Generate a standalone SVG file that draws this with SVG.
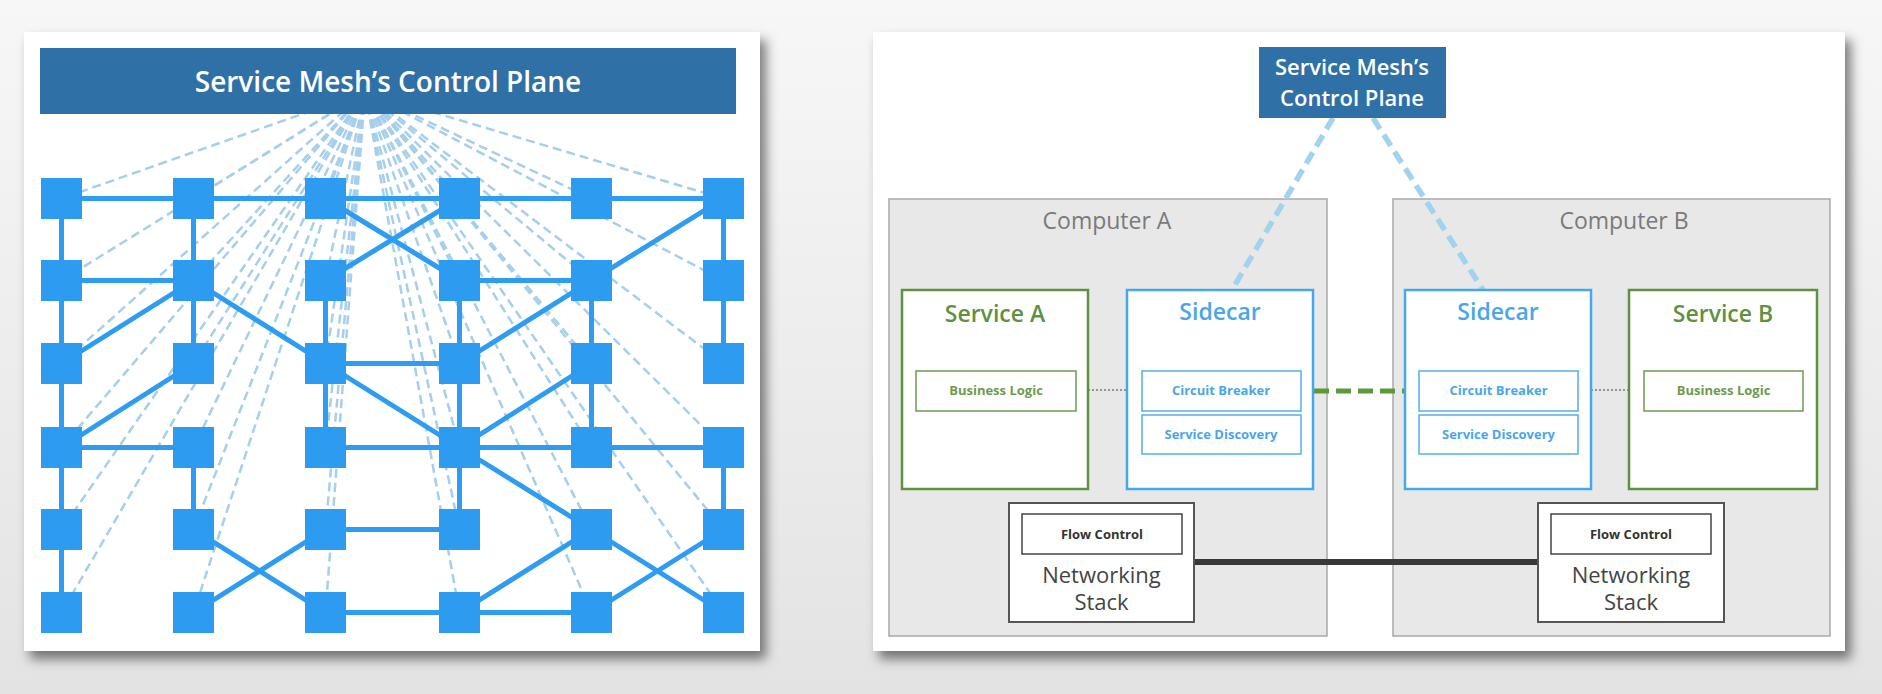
<svg xmlns="http://www.w3.org/2000/svg" width="1882" height="694" viewBox="0 0 1882 694">
<defs>
<linearGradient id="bg" x1="0" y1="0" x2="0" y2="1">
<stop offset="0" stop-color="#f7f7f7"/>
<stop offset="1" stop-color="#e3e3e3"/>
</linearGradient>
<filter id="shadow" x="-5%" y="-5%" width="112%" height="115%">
<feDropShadow dx="6" dy="8" stdDeviation="6" flood-color="#000" flood-opacity="0.5"/>
</filter>
<style>
text{font-family:"Open Sans","DejaVu Sans",sans-serif;text-anchor:middle}
.sq{fill:#2c9bf0}
.edge{stroke:#2e9cf0;stroke-width:5;fill:none}
.fan{stroke:#a5cfec;stroke-width:2.5;stroke-dasharray:9 5;fill:none}
.hdr{fill:#2f70a6}
.white{fill:#fff}
.comp{fill:#e8e8e8;stroke:#a9a9a9;stroke-width:1.5}
.svc{fill:#fff;stroke:#5e9140;stroke-width:2.5}
.svcin{fill:#fff;stroke:#6e9a50;stroke-width:1.5}
.side{fill:#fff;stroke:#45a7ee;stroke-width:2.5}
.sidein{fill:#fff;stroke:#56aeee;stroke-width:1.5}
.net{fill:#fff;stroke:#555;stroke-width:2}
.netin{fill:#fff;stroke:#444;stroke-width:1.5}
.tSvc{fill:#5e9140;font-size:23px;font-weight:600}
.tSide{fill:#4aa6e8;font-size:23px;font-weight:600}
.tSmG{fill:#6e9a50;font-size:13px;font-weight:700}
.tSmB{fill:#4aa6e8;font-size:13px;font-weight:700}
.tSmK{fill:#333;font-size:13px;font-weight:700}
.tComp{fill:#7a7a7a;font-size:23px}
.tNet{fill:#444;font-size:22px}
.tHdr{fill:#fff;font-size:22px;font-weight:600}
</style>
</defs>
<rect x="0" y="0" width="1882" height="694" fill="url(#bg)"/>

<!-- Left panel card -->
<rect x="24" y="32" width="736" height="619" class="white" filter="url(#shadow)"/>

<g id="fan-connectors">
<line class="fan" x1="365" y1="92" x2="61.5" y2="198.5"/>
<line class="fan" x1="365" y1="92" x2="193.5" y2="198.5"/>
<line class="fan" x1="365" y1="92" x2="325.5" y2="198.5"/>
<line class="fan" x1="365" y1="92" x2="459.5" y2="198.5"/>
<line class="fan" x1="365" y1="92" x2="591.5" y2="198.5"/>
<line class="fan" x1="365" y1="92" x2="723.5" y2="198.5"/>
<line class="fan" x1="365" y1="92" x2="61.5" y2="280.5"/>
<line class="fan" x1="365" y1="92" x2="193.5" y2="280.5"/>
<line class="fan" x1="365" y1="92" x2="325.5" y2="280.5"/>
<line class="fan" x1="365" y1="92" x2="459.5" y2="280.5"/>
<line class="fan" x1="365" y1="92" x2="591.5" y2="280.5"/>
<line class="fan" x1="365" y1="92" x2="723.5" y2="280.5"/>
<line class="fan" x1="365" y1="92" x2="61.5" y2="363.5"/>
<line class="fan" x1="365" y1="92" x2="193.5" y2="363.5"/>
<line class="fan" x1="365" y1="92" x2="325.5" y2="363.5"/>
<line class="fan" x1="365" y1="92" x2="459.5" y2="363.5"/>
<line class="fan" x1="365" y1="92" x2="591.5" y2="363.5"/>
<line class="fan" x1="365" y1="92" x2="723.5" y2="363.5"/>
<line class="fan" x1="365" y1="92" x2="61.5" y2="447.5"/>
<line class="fan" x1="365" y1="92" x2="193.5" y2="447.5"/>
<line class="fan" x1="365" y1="92" x2="325.5" y2="447.5"/>
<line class="fan" x1="365" y1="92" x2="459.5" y2="447.5"/>
<line class="fan" x1="365" y1="92" x2="591.5" y2="447.5"/>
<line class="fan" x1="365" y1="92" x2="723.5" y2="447.5"/>
<line class="fan" x1="365" y1="92" x2="61.5" y2="529.5"/>
<line class="fan" x1="365" y1="92" x2="193.5" y2="529.5"/>
<line class="fan" x1="365" y1="92" x2="325.5" y2="529.5"/>
<line class="fan" x1="365" y1="92" x2="459.5" y2="529.5"/>
<line class="fan" x1="365" y1="92" x2="591.5" y2="529.5"/>
<line class="fan" x1="365" y1="92" x2="723.5" y2="529.5"/>
<line class="fan" x1="365" y1="92" x2="61.5" y2="612.5"/>
<line class="fan" x1="365" y1="92" x2="193.5" y2="612.5"/>
<line class="fan" x1="365" y1="92" x2="325.5" y2="612.5"/>
<line class="fan" x1="365" y1="92" x2="459.5" y2="612.5"/>
<line class="fan" x1="365" y1="92" x2="591.5" y2="612.5"/>
<line class="fan" x1="365" y1="92" x2="723.5" y2="612.5"/>
</g>

<g id="mesh-control-plane">
<rect x="40" y="48" width="696" height="66" class="hdr"/>
<text x="388" y="92" style="font-size:28px;font-weight:600;fill:#fff">Service Mesh’s Control Plane</text>
</g>

<g id="mesh-connectors">
<line class="edge" x1="61.5" y1="198.5" x2="193.5" y2="198.5"/>
<line class="edge" x1="193.5" y1="198.5" x2="325.5" y2="198.5"/>
<line class="edge" x1="325.5" y1="198.5" x2="459.5" y2="198.5"/>
<line class="edge" x1="459.5" y1="198.5" x2="591.5" y2="198.5"/>
<line class="edge" x1="591.5" y1="198.5" x2="723.5" y2="198.5"/>
<line class="edge" x1="61.5" y1="198.5" x2="61.5" y2="280.5"/>
<line class="edge" x1="61.5" y1="280.5" x2="61.5" y2="363.5"/>
<line class="edge" x1="61.5" y1="363.5" x2="61.5" y2="447.5"/>
<line class="edge" x1="61.5" y1="447.5" x2="61.5" y2="529.5"/>
<line class="edge" x1="61.5" y1="529.5" x2="61.5" y2="612.5"/>
<line class="edge" x1="61.5" y1="280.5" x2="193.5" y2="280.5"/>
<line class="edge" x1="193.5" y1="198.5" x2="193.5" y2="280.5"/>
<line class="edge" x1="193.5" y1="280.5" x2="193.5" y2="363.5"/>
<line class="edge" x1="61.5" y1="363.5" x2="193.5" y2="280.5"/>
<line class="edge" x1="61.5" y1="447.5" x2="193.5" y2="363.5"/>
<line class="edge" x1="61.5" y1="447.5" x2="193.5" y2="447.5"/>
<line class="edge" x1="193.5" y1="447.5" x2="193.5" y2="529.5"/>
<line class="edge" x1="193.5" y1="280.5" x2="325.5" y2="363.5"/>
<line class="edge" x1="193.5" y1="529.5" x2="325.5" y2="612.5"/>
<line class="edge" x1="193.5" y1="612.5" x2="325.5" y2="529.5"/>
<line class="edge" x1="325.5" y1="198.5" x2="459.5" y2="280.5"/>
<line class="edge" x1="325.5" y1="280.5" x2="459.5" y2="198.5"/>
<line class="edge" x1="325.5" y1="280.5" x2="325.5" y2="363.5"/>
<line class="edge" x1="325.5" y1="363.5" x2="325.5" y2="447.5"/>
<line class="edge" x1="325.5" y1="363.5" x2="459.5" y2="363.5"/>
<line class="edge" x1="325.5" y1="363.5" x2="459.5" y2="447.5"/>
<line class="edge" x1="325.5" y1="447.5" x2="459.5" y2="447.5"/>
<line class="edge" x1="325.5" y1="529.5" x2="459.5" y2="529.5"/>
<line class="edge" x1="325.5" y1="612.5" x2="459.5" y2="612.5"/>
<line class="edge" x1="459.5" y1="280.5" x2="459.5" y2="363.5"/>
<line class="edge" x1="459.5" y1="363.5" x2="459.5" y2="447.5"/>
<line class="edge" x1="459.5" y1="447.5" x2="459.5" y2="529.5"/>
<line class="edge" x1="459.5" y1="280.5" x2="591.5" y2="280.5"/>
<line class="edge" x1="459.5" y1="363.5" x2="591.5" y2="280.5"/>
<line class="edge" x1="459.5" y1="447.5" x2="591.5" y2="363.5"/>
<line class="edge" x1="459.5" y1="447.5" x2="591.5" y2="447.5"/>
<line class="edge" x1="591.5" y1="447.5" x2="723.5" y2="447.5"/>
<line class="edge" x1="459.5" y1="447.5" x2="591.5" y2="529.5"/>
<line class="edge" x1="591.5" y1="280.5" x2="591.5" y2="363.5"/>
<line class="edge" x1="591.5" y1="363.5" x2="591.5" y2="447.5"/>
<line class="edge" x1="591.5" y1="280.5" x2="723.5" y2="198.5"/>
<line class="edge" x1="591.5" y1="529.5" x2="459.5" y2="612.5"/>
<line class="edge" x1="459.5" y1="612.5" x2="591.5" y2="612.5"/>
<line class="edge" x1="591.5" y1="529.5" x2="723.5" y2="612.5"/>
<line class="edge" x1="591.5" y1="612.5" x2="723.5" y2="529.5"/>
<line class="edge" x1="723.5" y1="198.5" x2="723.5" y2="280.5"/>
<line class="edge" x1="723.5" y1="280.5" x2="723.5" y2="363.5"/>
<line class="edge" x1="723.5" y1="447.5" x2="723.5" y2="529.5"/>
</g>

<g id="mesh-nodes">
<g id="n-1-1"><rect class="sq" x="41" y="178" width="41" height="41"/></g>
<g id="n-1-2"><rect class="sq" x="173" y="178" width="41" height="41"/></g>
<g id="n-1-3"><rect class="sq" x="305" y="178" width="41" height="41"/></g>
<g id="n-1-4"><rect class="sq" x="439" y="178" width="41" height="41"/></g>
<g id="n-1-5"><rect class="sq" x="571" y="178" width="41" height="41"/></g>
<g id="n-1-6"><rect class="sq" x="703" y="178" width="41" height="41"/></g>
<g id="n-2-1"><rect class="sq" x="41" y="260" width="41" height="41"/></g>
<g id="n-2-2"><rect class="sq" x="173" y="260" width="41" height="41"/></g>
<g id="n-2-3"><rect class="sq" x="305" y="260" width="41" height="41"/></g>
<g id="n-2-4"><rect class="sq" x="439" y="260" width="41" height="41"/></g>
<g id="n-2-5"><rect class="sq" x="571" y="260" width="41" height="41"/></g>
<g id="n-2-6"><rect class="sq" x="703" y="260" width="41" height="41"/></g>
<g id="n-3-1"><rect class="sq" x="41" y="343" width="41" height="41"/></g>
<g id="n-3-2"><rect class="sq" x="173" y="343" width="41" height="41"/></g>
<g id="n-3-3"><rect class="sq" x="305" y="343" width="41" height="41"/></g>
<g id="n-3-4"><rect class="sq" x="439" y="343" width="41" height="41"/></g>
<g id="n-3-5"><rect class="sq" x="571" y="343" width="41" height="41"/></g>
<g id="n-3-6"><rect class="sq" x="703" y="343" width="41" height="41"/></g>
<g id="n-4-1"><rect class="sq" x="41" y="427" width="41" height="41"/></g>
<g id="n-4-2"><rect class="sq" x="173" y="427" width="41" height="41"/></g>
<g id="n-4-3"><rect class="sq" x="305" y="427" width="41" height="41"/></g>
<g id="n-4-4"><rect class="sq" x="439" y="427" width="41" height="41"/></g>
<g id="n-4-5"><rect class="sq" x="571" y="427" width="41" height="41"/></g>
<g id="n-4-6"><rect class="sq" x="703" y="427" width="41" height="41"/></g>
<g id="n-5-1"><rect class="sq" x="41" y="509" width="41" height="41"/></g>
<g id="n-5-2"><rect class="sq" x="173" y="509" width="41" height="41"/></g>
<g id="n-5-3"><rect class="sq" x="305" y="509" width="41" height="41"/></g>
<g id="n-5-4"><rect class="sq" x="439" y="509" width="41" height="41"/></g>
<g id="n-5-5"><rect class="sq" x="571" y="509" width="41" height="41"/></g>
<g id="n-5-6"><rect class="sq" x="703" y="509" width="41" height="41"/></g>
<g id="n-6-1"><rect class="sq" x="41" y="592" width="41" height="41"/></g>
<g id="n-6-2"><rect class="sq" x="173" y="592" width="41" height="41"/></g>
<g id="n-6-3"><rect class="sq" x="305" y="592" width="41" height="41"/></g>
<g id="n-6-4"><rect class="sq" x="439" y="592" width="41" height="41"/></g>
<g id="n-6-5"><rect class="sq" x="571" y="592" width="41" height="41"/></g>
<g id="n-6-6"><rect class="sq" x="703" y="592" width="41" height="41"/></g>
</g>

<!-- Right panel card -->
<rect x="873" y="32" width="972" height="619" class="white" filter="url(#shadow)"/>

<g id="computer-a">
<rect x="889" y="199" width="438" height="437" class="comp"/>
<text x="1107" y="229" class="tComp">Computer A</text>
</g>
<g id="computer-b">
<rect x="1393" y="199" width="437" height="437" class="comp"/>
<text x="1624" y="229" class="tComp">Computer B</text>
</g>

<g id="connectors">
<line x1="1333" y1="118" x2="1232" y2="290" stroke="#a2d3ee" stroke-width="5.5" stroke-dasharray="13 7"/>
<line x1="1373" y1="118" x2="1483" y2="290" stroke="#a2d3ee" stroke-width="5.5" stroke-dasharray="13 7"/>
<line x1="1088" y1="390" x2="1127" y2="390" stroke="#777" stroke-width="1.3" stroke-dasharray="2 2"/>
<line x1="1591" y1="390" x2="1629" y2="390" stroke="#777" stroke-width="1.3" stroke-dasharray="2 2"/>
<line x1="1314" y1="391" x2="1405" y2="391" stroke="#5b9a3a" stroke-width="5" stroke-dasharray="15 7"/>
<line x1="1194" y1="562" x2="1538" y2="562" stroke="#383838" stroke-width="6"/>
</g>

<g id="control-plane">
<rect x="1259" y="47" width="187" height="71" class="hdr"/>
<text x="1352" y="75" class="tHdr">Service Mesh’s</text>
<text x="1352" y="106" class="tHdr">Control Plane</text>
</g>

<g id="service-a">
<rect x="902" y="290" width="186" height="199" class="svc"/>
<text x="995" y="322" class="tSvc">Service A</text>
</g>
<g id="business-logic-a">
<rect x="916" y="371" width="160" height="40" class="svcin"/>
<text x="996" y="395" class="tSmG">Business Logic</text>
</g>
<g id="sidecar-a">
<rect x="1127" y="290" width="186" height="199" class="side"/>
<text x="1220" y="320" class="tSide">Sidecar</text>
</g>
<g id="circuit-breaker-a">
<rect x="1142" y="371" width="159" height="40" class="sidein"/>
<text x="1221" y="395" class="tSmB">Circuit Breaker</text>
</g>
<g id="service-discovery-a">
<rect x="1142" y="415" width="159" height="39" class="sidein"/>
<text x="1221" y="439" class="tSmB">Service Discovery</text>
</g>
<g id="networking-stack-a">
<rect x="1009" y="503" width="185" height="119" class="net"/>
<text x="1101.5" y="583" class="tNet">Networking</text>
<text x="1101.5" y="610" class="tNet">Stack</text>
</g>
<g id="flow-control-a">
<rect x="1022" y="514" width="160" height="40" class="netin"/>
<text x="1102" y="539" class="tSmK">Flow Control</text>
</g>

<g id="sidecar-b">
<rect x="1405" y="290" width="186" height="199" class="side"/>
<text x="1498" y="320" class="tSide">Sidecar</text>
</g>
<g id="circuit-breaker-b">
<rect x="1419" y="371" width="159" height="40" class="sidein"/>
<text x="1498.5" y="395" class="tSmB">Circuit Breaker</text>
</g>
<g id="service-discovery-b">
<rect x="1419" y="415" width="159" height="39" class="sidein"/>
<text x="1498.5" y="439" class="tSmB">Service Discovery</text>
</g>
<g id="service-b">
<rect x="1629" y="290" width="188" height="199" class="svc"/>
<text x="1723" y="322" class="tSvc">Service B</text>
</g>
<g id="business-logic-b">
<rect x="1644" y="371" width="159" height="40" class="svcin"/>
<text x="1723.5" y="395" class="tSmG">Business Logic</text>
</g>
<g id="networking-stack-b">
<rect x="1538" y="503" width="186" height="119" class="net"/>
<text x="1631" y="583" class="tNet">Networking</text>
<text x="1631" y="610" class="tNet">Stack</text>
</g>
<g id="flow-control-b">
<rect x="1551" y="514" width="160" height="40" class="netin"/>
<text x="1631" y="539" class="tSmK">Flow Control</text>
</g>
</svg>
